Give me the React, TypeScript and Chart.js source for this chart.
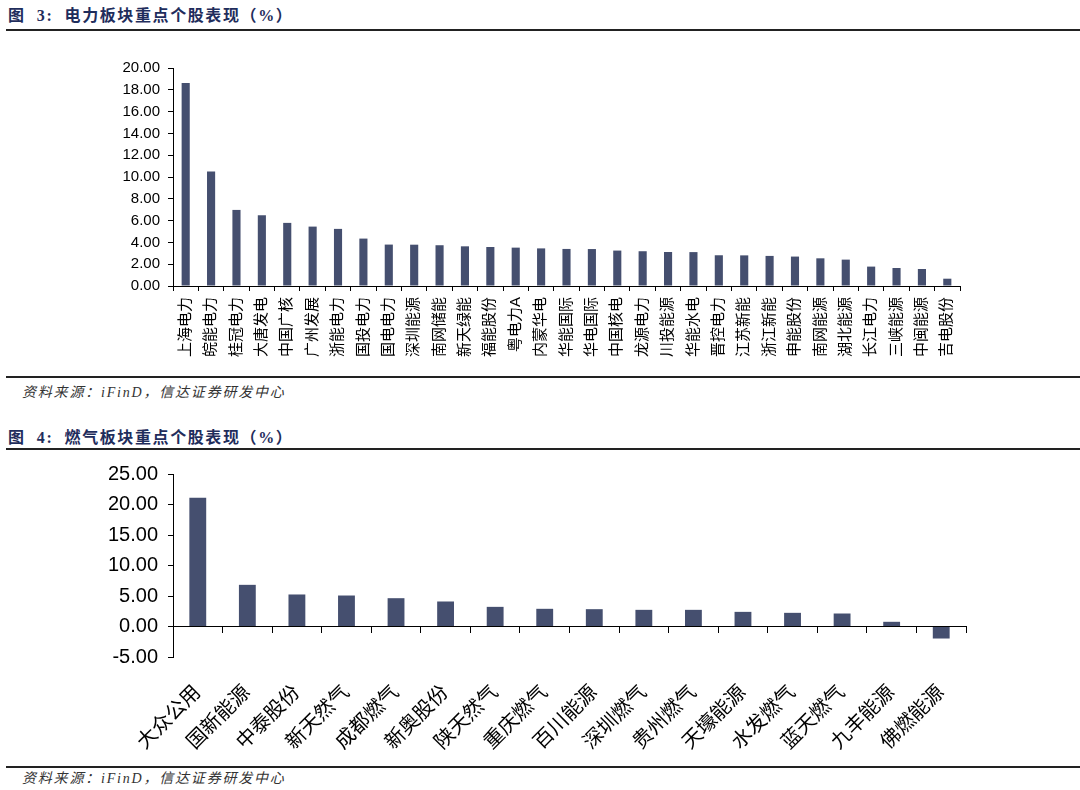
import React, { useEffect, useRef } from "react";
import { Chart, registerables } from "chart.js";

Chart.register(...registerables);

const powerCategories = [
  "上海电力", "皖能电力", "桂冠电力", "大唐发电", "中国广核", "广州发展", "浙能电力", "国投电力",
  "国电电力", "深圳能源", "南网储能", "新天绿能", "福能股份", "粤电力A", "内蒙华电", "华能国际",
  "华电国际", "中国核电", "龙源电力", "川投能源", "华能水电", "晋控电力", "江苏新能", "浙江新能",
  "申能股份", "南网能源", "湖北能源", "长江电力", "三峡能源", "中闽能源", "吉电股份",
];
const powerValues = [
  18.62, 10.5, 6.98, 6.49, 5.79, 5.45, 5.24, 4.35, 3.8, 3.79, 3.74, 3.64, 3.58, 3.52, 3.45, 3.4,
  3.39, 3.25, 3.19, 3.12, 3.11, 2.82, 2.81, 2.76, 2.7, 2.54, 2.42, 1.78, 1.65, 1.56, 0.67,
];
const powerYTicks = [0, 2, 4, 6, 8, 10, 12, 14, 16, 18, 20];

const gasCategories = [
  "大众公用", "国新能源", "中泰股份", "新天然气", "成都燃气", "新奥股份", "陕天然气", "重庆燃气",
  "百川能源", "深圳燃气", "贵州燃气", "天壕能源", "水发燃气", "蓝天燃气", "九丰能源", "佛燃能源",
];
const gasValues = [
  21.09, 6.83, 5.25, 5.08, 4.64, 4.1, 3.22, 2.9, 2.84, 2.73, 2.73, 2.4, 2.24, 2.13, 0.77, -1.97,
];
const gasYTicks = [-5, 0, 5, 10, 15, 20, 25];

const BAR = "#454f6f";
const FONT = "'Liberation Sans', Arial, 'Noto Sans CJK SC', sans-serif";

function PowerChart() {
  const ref = useRef<HTMLCanvasElement>(null);
  useEffect(() => {
    if (!ref.current) return;
    const chart = new Chart(ref.current, {
      type: "bar",
      data: {
        labels: powerCategories,
        datasets: [
          {
            data: powerValues,
            backgroundColor: BAR,
            barPercentage: 0.32,
            categoryPercentage: 1,
          },
        ],
      },
      options: {
        responsive: false,
        animation: false,
        layout: { padding: { left: 0, right: 120, top: 28, bottom: 0 } },
        plugins: { legend: { display: false }, tooltip: { enabled: false } },
        scales: {
          x: {
            type: "category",
            offset: true,
            grid: { offset: true, drawOnChartArea: false, drawTicks: true, tickLength: 5, color: "#000" },
            border: { display: true, color: "#000", width: 1 },
            ticks: {
              minRotation: 90,
              maxRotation: 90,
              autoSkip: false,
              padding: 6,
              color: "#000",
              font: { family: FONT, size: 15 },
            },
            afterFit: (s: any) => {
              s.height = 89;
            },
          },
          y: {
            min: 0,
            max: 20,
            afterBuildTicks: (s: any) => {
              s.ticks = powerYTicks.map((v) => ({ value: v }));
            },
            grid: { drawOnChartArea: false, drawTicks: true, tickLength: 5, color: "#000" },
            border: { display: true, color: "#000", width: 1 },
            ticks: {
              padding: 8,
              color: "#000",
              font: { family: FONT, size: 15 },
              callback: (v: any) => Number(v).toFixed(2),
            },
            afterFit: (s: any) => {
              s.width = 173;
            },
          },
        },
      },
    });
    return () => chart.destroy();
  }, []);
  return (
    <canvas
      ref={ref}
      width={1080}
      height={335}
      style={{ position: "absolute", left: 0, top: 40, width: 1080, height: 335 }}
    />
  );
}

function GasChart() {
  const ref = useRef<HTMLCanvasElement>(null);
  useEffect(() => {
    if (!ref.current) return;
    const chart = new Chart(ref.current, {
      type: "bar",
      data: {
        labels: gasCategories,
        datasets: [
          {
            data: gasValues,
            backgroundColor: BAR,
            barPercentage: 0.34,
            categoryPercentage: 1,
            xAxisID: "x",
            yAxisID: "y",
          },
        ],
      },
      options: {
        responsive: false,
        animation: false,
        layout: { padding: { left: 0, right: 114, top: 22, bottom: 0 } },
        plugins: { legend: { display: false }, tooltip: { enabled: false } },
        scales: {
          x: {
            type: "category",
            position: "bottom",
            offset: true,
            grid: { display: false, drawTicks: false },
            border: { display: false },
            ticks: {
              minRotation: 45,
              maxRotation: 45,
              autoSkip: false,
              padding: 24,
              color: "#000",
              font: { family: FONT, size: 20 },
            },
            afterFit: (s: any) => {
              s.height = 107;
            },
          },
          x0: {
            type: "category",
            position: { y: 0 },
            offset: true,
            grid: { offset: true, drawOnChartArea: false, drawTicks: true, tickLength: 6, color: "#000" },
            border: { display: true, color: "#000", width: 1 },
            ticks: { display: false },
          },
          y: {
            min: -5,
            max: 25,
            afterBuildTicks: (s: any) => {
              s.ticks = gasYTicks.map((v) => ({ value: v }));
            },
            grid: { drawOnChartArea: false, drawTicks: true, tickLength: 5, color: "#000" },
            border: { display: true, color: "#000", width: 1 },
            ticks: {
              padding: 10,
              color: "#000",
              font: { family: FONT, size: 20 },
              callback: (v: any) => Number(v).toFixed(2),
            },
            afterFit: (s: any) => {
              s.width = 173;
            },
          },
        },
      },
    });
    return () => chart.destroy();
  }, []);
  return (
    <canvas
      ref={ref}
      width={1080}
      height={312}
      style={{ position: "absolute", left: 0, top: 452, width: 1080, height: 312 }}
    />
  );
}

const titleStyle: React.CSSProperties = {
  position: "absolute",
  left: 8,
  fontFamily: "'Liberation Serif', 'Noto Sans CJK SC', serif",
  fontWeight: "bold",
  fontSize: 16,
  letterSpacing: 1.6,
  color: "#1f2d5c",
  whiteSpace: "pre",
  lineHeight: "20px",
};
const sourceStyle: React.CSSProperties = {
  position: "absolute",
  left: 22,
  fontFamily: "'Liberation Serif', 'Noto Sans CJK SC', serif",
  fontStyle: "italic",
  fontSize: 14,
  letterSpacing: 1.8,
  color: "#333",
  whiteSpace: "pre",
  lineHeight: "18px",
};
const lineStyle = (top: number, h: number): React.CSSProperties => ({
  position: "absolute",
  left: 6,
  right: 0,
  top,
  height: h,
  background: "#222",
});

export default function App() {
  return (
    <div
      style={{
        position: "absolute",
        left: 0,
        top: 0,
        width: 1080,
        height: 790,
        background: "#fff",
        overflow: "hidden",
      }}
    >
      <div style={{ ...titleStyle, top: 6 }}>{"图  3:  电力板块重点个股表现（%）"}</div>
      <div style={lineStyle(29, 2)} />
      <PowerChart />
      <div style={lineStyle(376, 2)} />
      <div style={{ ...sourceStyle, top: 384 }}>{"资料来源：iFinD，信达证券研发中心"}</div>
      <div style={{ ...titleStyle, top: 428 }}>{"图  4:  燃气板块重点个股表现（%）"}</div>
      <div style={lineStyle(448, 2)} />
      <GasChart />
      <div style={lineStyle(766, 2)} />
      <div style={{ ...sourceStyle, top: 770 }}>{"资料来源：iFinD，信达证券研发中心"}</div>
    </div>
  );
}
